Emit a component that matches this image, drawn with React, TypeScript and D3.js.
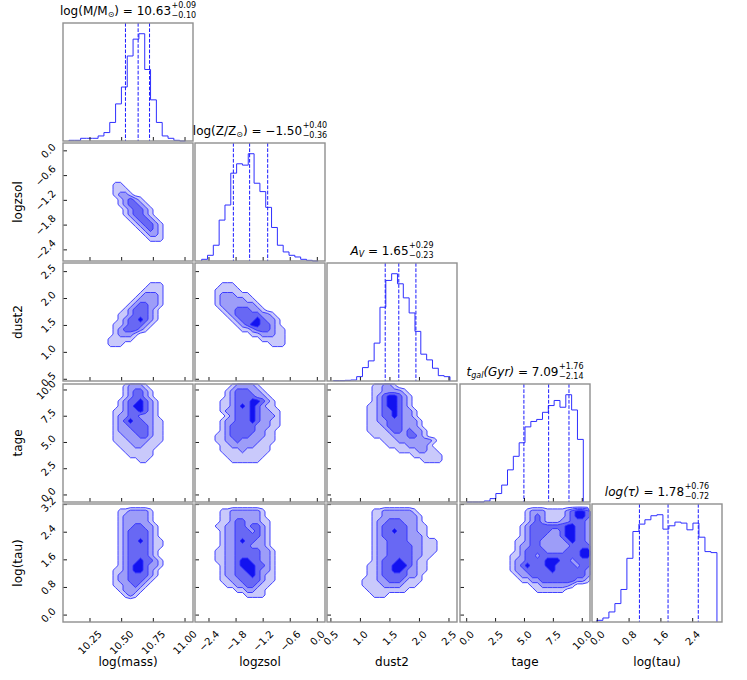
import React, { useMemo } from 'react';
import * as d3 from 'd3';

// ---------------- data ----------------
const PARAM_LABELS = ['log(mass)', 'logzsol', 'dust2', 'tage', 'log(tau)'];

const X_DOMAINS: [number, number][] = [
  [10.037, 11.063],
  [-2.71, 0.17],
  [0.434, 2.636],
  [-0.58, 10.67],
  [-0.133, 3.137],
];
const Y_DOMAINS: ([number, number] | null)[] = [
  null,
  [-2.67, 0.19],
  [0.468, 2.66],
  [-0.67, 10.57],
  [-0.2, 3.217],
];

const TICK_VALUES = [
  [10.25, 10.5, 10.75, 11.0],
  [-2.4, -1.8, -1.2, -0.6, 0.0],
  [0.5, 1.0, 1.5, 2.0, 2.5],
  [0, 2.5, 5, 7.5, 10],
  [0, 0.8, 1.6, 2.4, 3.2],
];
const TICK_LABELS = [
  ['10.25', '10.50', '10.75', '11.00'],
  ['\u22122.4', '\u22121.8', '\u22121.2', '\u22120.6', '0.0'],
  ['0.5', '1.0', '1.5', '2.0', '2.5'],
  ['0.0', '2.5', '5.0', '7.5', '10.0'],
  ['0.0', '0.8', '1.6', '2.4', '3.2'],
];

const MEDIANS = [10.63, -1.5, 1.65, 7.09, 1.78];
const ERR_PLUS = [0.09, 0.4, 0.29, 1.76, 0.76];
const ERR_MINUS = [0.1, 0.36, 0.23, 2.14, 0.72];

const HIST_START = [10.084, -2.562, 0.541, 0.0, -0.01];
const HIST_BIN_WIDTH = [0.046, 0.129, 0.0988, 0.5045, 0.151];
const HIST_MASS = [2, 2, 8, 8, 8, 15, 25, 55, 110, 160, 252, 302, 318, 212, 122, 55, 15, 8, 2, 0];
const HIST_LOGZSOL = [5, 17, 47, 122, 167, 262, 290, 286, 320, 232, 207, 160, 100, 47, 27, 17, 12, 5, 2, 0];
const HIST_DUST2 = [1, 1, 2, 3, 13, 40, 60, 113, 220, 300, 320, 290, 248, 203, 148, 80, 63, 38, 16, 13];
const HIST_TAGE = [0, 0, 0, 3, 10, 25, 50, 95, 135, 175, 222, 238, 244, 265, 285, 300, 280, 317, 272, 185];
const HIST_TAU = [5, 12, 30, 55, 97, 190, 270, 292, 305, 317, 320, 277, 287, 298, 295, 275, 295, 253, 210, 207];
const HIST_COUNTS = [HIST_MASS, HIST_LOGZSOL, HIST_DUST2, HIST_TAGE, HIST_TAU];

// 2D density level grids (26 x 24 bins spanning each panel's range; "start:levels")
const GRID_MASS_LOGZSOL = [
  '', '', '', '', '', '', '', '',
  '10:11', '10:111', '10:1221', '11:12321', '11:123321', '12:123321', '12:123321',
  '13:123321', '14:123321', '15:12321', '16:1221', '17:111',
];
const GRID_MASS_DUST2 = [
  '', '', '', '',
  '17:111', '16:1111', '15:12221', '14:122221', '13:1233221', '12:1233321',
  '11:11233321', '11:12334321', '10:11233321', '10:1233321', '10:12221', '9:11111', '9:111',
];
const GRID_LOGZSOL_DUST2 = [
  '', '', '', '',
  '5:111', '4:11111', '4:1222111', '4:12222211', '4:122222221', '5:122333221',
  '6:1233333221', '7:1233343221', '8:123443321', '9:112333211', '11:1122211', '13:11111', '15:111',
];
const GRID_MASS_TAGE = [
  '12:12221', '12:123321', '12:123321', '11:12334321', '11:12344321', '10:112334321',
  '10:122332221', '10:1234332211', '10:1223333211', '10:1222333211', '10:1122233211',
  '10:1112222111', '11:11122111', '12:111111', '13:11111', '15:11',
];
const GRID_LOGZSOL_TAGE = [
  '7:122221', '6:12333221', '6:123333221', '5:11233344321', '5:11234343211',
  '5:122333432211', '6:12333432221', '5:122333432211', '5:123333322211', '5:12333332211',
  '4:112333322211', '4:112232222111', '5:1122222111', '5:1111211111', '6:11111111', '7:111111',
];
const GRID_DUST2_TAGE = [
  '9:11221', '9:1122221', '9:12344321', '9:12344321', '8:112344321', '8:1123343221',
  '8:1123343221', '8:11223332221', '8:11123332221', '8:111123323221', '9:11112223321',
  '11:11122222221', '12:111122221', '14:11112211', '17:111111', '19:1111',
];
const GRID_MASS_TAU = [
  '', '11:1122221', '11:1222221', '11:1222221', '11:12233221', '11:12333321', '11:12333321',
  '11:123343211', '11:123333211', '11:12333321', '11:12333321', '11:123343321', '11:123443221',
  '10:112344321', '10:122333321', '10:12233321', '10:1122321', '11:12221', '12:121',
];
const GRID_LOGZSOL_TAU = [
  '', '5:112222221', '5:112222221', '5:1123322211', '4:11223323321', '5:1223332321',
  '5:1223333321', '5:1223433221', '5:1223332221', '4:112233333221', '4:112233333221',
  '4:112234433221', '5:12234443321', '5:12233443221', '5:12233343211', '5:11223333211',
  '6:112233211', '8:112211', '10:1111',
];
const GRID_DUST2_TAU = [
  '', '9:112222221', '9:1122222221', '9:1223332221', '9:12333332211', '9:12334332211',
  '9:12333332221', '9:1223333222111', '9:1223333322111', '9:1223333322111', '9:122333332211',
  '9:12333433211', '8:112334443211', '8:112334432211', '8:11233333221', '7:111223332111',
  '7:11112222111', '8:11111111', '9:111',
];
const GRID_TAGE_TAU = [
  '', '13:1222111123443', '13:1232111123443', '13:1232111223332', '12:12333333344332',
  '12:12333322344332', '12:12333222344332', '11:112332222234332', '11:122332222223333',
  '11:123333222233344', '10:1123323333333344', '10:1223333444332333', '10:1234333443333233',
  '10:1223333343333332', '11:122333333333332', '12:11223333333221', '14:112222221', '15:111111',
];

const CONTOUR_GRIDS: { [k: string]: string[] } = {
  '1-0': GRID_MASS_LOGZSOL,
  '2-0': GRID_MASS_DUST2,
  '2-1': GRID_LOGZSOL_DUST2,
  '3-0': GRID_MASS_TAGE,
  '3-1': GRID_LOGZSOL_TAGE,
  '3-2': GRID_DUST2_TAGE,
  '4-0': GRID_MASS_TAU,
  '4-1': GRID_LOGZSOL_TAU,
  '4-2': GRID_DUST2_TAU,
  '4-3': GRID_TAGE_TAU,
};

type Seg = { t: string; it?: boolean; sub?: boolean };
const TITLE_NAMES: Seg[][] = [
  [{ t: 'log(M/M' }, { t: '\u2299', sub: true }, { t: ')' }],
  [{ t: 'log(Z/Z' }, { t: '\u2299', sub: true }, { t: ')' }],
  [{ t: 'A', it: true }, { t: 'V', it: true, sub: true }],
  [{ t: 't', it: true }, { t: 'gal', it: true, sub: true }, { t: '(Gyr)', it: true }],
  [{ t: 'log(\u03c4)', it: true }],
];

// ---------------- layout / style ----------------
const W = 747, H = 680;
const COL_LEFT = [63, 195, 327, 460, 592];
const ROW_TOP = [23, 143, 263, 384, 504];
const PW = 130, PH = 118;
const NX = 26, NY = 24;
const FONT = '"DejaVu Sans", sans-serif';
const FS_TICK = 10, FS_LABEL = 12, FS_SCRIPT = 8;
const LEVEL_FILLS = ['#c9c9fb', '#9d9df8', '#6868f4', '#1212f0'];
const LINE = '#2f2fff';
const FRAME = '#8f8f8f';

function parseGrid(rows: string[]): number[] {
  const v = new Array(NX * NY).fill(0);
  rows.forEach((row, j) => {
    if (!row) return;
    const [s, digits] = row.split(':');
    const i0 = parseInt(s, 10);
    for (let k = 0; k < digits.length; k++) {
      const i = i0 + k;
      if (i < NX && j < NY) v[j * NX + i] = digits[k] === '.' ? 0 : +digits[k];
    }
  });
  return v;
}

function fmt(v: number) {
  const s = Math.abs(v).toFixed(2);
  return v < 0 ? '\u2212' + s : s;
}

export default function App() {
  const measure = useMemo(() => {
    const ctx = document.createElement('canvas').getContext('2d')!;
    return (s: string, size: number, it = false) => {
      ctx.font = `${it ? 'italic ' : ''}${size}px "DejaVu Sans"`;
      return ctx.measureText(s).width;
    };
  }, []);

  const elements: React.ReactNode[] = [];

  for (let r = 0; r < 5; r++) {
    for (let c = 0; c <= r; c++) {
      const L = COL_LEFT[c], T = ROW_TOP[r], B = T + PH;
      const xs = d3.scaleLinear().domain(X_DOMAINS[c]).range([L, L + PW]);
      const key = `p${r}${c}`;
      const parts: React.ReactNode[] = [];

      if (r === c) {
        const counts = HIST_COUNTS[c];
        const ys = d3.scaleLinear().domain([0, 1.1 * (d3.max(counts) as number)]).range([B, T]);
        const pts: [number, number][] = [];
        const x0 = HIST_START[c], bw = HIST_BIN_WIDTH[c];
        pts.push([x0, 0]);
        counts.forEach((n, k) => {
          pts.push([x0 + k * bw, n]);
          pts.push([x0 + (k + 1) * bw, n]);
        });
        pts.push([x0 + counts.length * bw, 0]);
        const line = d3.line<[number, number]>().x(d => xs(d[0])).y(d => ys(d[1]));
        parts.push(<path key="h" d={line(pts) || ''} fill="none" stroke={LINE} strokeWidth={1} />);
        const qs = [MEDIANS[c] - ERR_MINUS[c], MEDIANS[c], MEDIANS[c] + ERR_PLUS[c]];
        qs.forEach((q, k) => (
          parts.push(<line key={'q' + k} x1={xs(q)} x2={xs(q)} y1={T} y2={B} stroke="#1a1aff" strokeWidth={1} strokeDasharray="3.7 1.6" />)
        ));
      } else {
        const yd = Y_DOMAINS[r] as [number, number];
        const ys = d3.scaleLinear().domain(yd).range([B, T]);
        const gx = d3.scaleLinear().domain([0, NX]).range(X_DOMAINS[c]);
        const gy = d3.scaleLinear().domain([0, NY]).range([yd[1], yd[0]]);
        const values = parseGrid(CONTOUR_GRIDS[`${r}-${c}`]);
        const contours = d3.contours().size([NX, NY]).thresholds([0.5, 1.5, 2.5, 3.5])(values);
        const proj = d3.geoTransform({
          point: function (this: any, x: number, y: number) {
            this.stream.point(xs(gx(x)), ys(gy(y)));
          },
        });
        const path = d3.geoPath(proj);
        contours.forEach((ct, k) => {
          if (!ct.coordinates.length) return;
          parts.push(<path key={'c' + k} d={path(ct as any) || ''} fill={LEVEL_FILLS[k]} stroke={LINE} strokeWidth={0.9} strokeLinejoin="round" />);
        });
        // y ticks
        TICK_VALUES[r].forEach((v, k) => {
          if (v < yd[0] || v > yd[1]) return;
          const y = ys(v);
          parts.push(<line key={'yt' + k} x1={L} x2={L + 4} y1={y} y2={y} stroke="#000" strokeWidth={0.9} />);
          if (c === 0) {
            const lab = TICK_LABELS[r][k];
            const w = measure(lab, FS_TICK);
            const half = (w + 1.16 * FS_TICK) / (2 * Math.SQRT2);
            parts.push(
              <text key={'yl' + k} transform={`translate(${L - 4.8 - half},${y}) rotate(-45)`} textAnchor="middle" dominantBaseline="central" fontSize={FS_TICK}>{lab}</text>
            );
          }
        });
      }

      // x ticks
      TICK_VALUES[c].forEach((v, k) => {
        if (v < X_DOMAINS[c][0] || v > X_DOMAINS[c][1]) return;
        const x = xs(v);
        parts.push(<line key={'xt' + k} x1={x} x2={x} y1={B} y2={B - 4} stroke="#000" strokeWidth={0.9} />);
        if (r === 4) {
          const lab = TICK_LABELS[c][k];
          const w = measure(lab, FS_TICK);
          const half = (w + 1.16 * FS_TICK) / (2 * Math.SQRT2);
          parts.push(
            <text key={'xl' + k} transform={`translate(${x},${B + 6.3 + half}) rotate(-45)`} textAnchor="middle" dominantBaseline="central" fontSize={FS_TICK}>{lab}</text>
          );
        }
      });

      parts.push(<rect key="f" x={L} y={T} width={PW} height={PH} fill="none" stroke={FRAME} strokeWidth={1.4} />);
      elements.push(<g key={key}>{parts}</g>);
    }
  }

  // axis labels
  PARAM_LABELS.forEach((lab, c) => {
    elements.push(
      <text key={'xlab' + c} x={COL_LEFT[c] + PW / 2} y={666} textAnchor="middle" fontSize={FS_LABEL}>{lab}</text>
    );
    if (c > 0) {
      const cy = ROW_TOP[c] + PH / 2;
      elements.push(
        <text key={'ylab' + c} transform={`translate(22,${cy}) rotate(-90)`} textAnchor="middle" fontSize={FS_LABEL}>{lab}</text>
      );
    }
  });

  // titles
  TITLE_NAMES.forEach((segs, k) => {
    const small = FS_SCRIPT;
    const items: { t: string; x: number; dy: number; size: number; it: boolean }[] = [];
    let x = 0;
    segs.forEach(s => {
      const size = s.sub ? small : FS_LABEL;
      items.push({ t: s.t, x, dy: s.sub ? 2.5 : 0, size, it: !!s.it });
      x += measure(s.t, size, !!s.it);
    });
    const eq = ` = ${fmt(MEDIANS[k])}`;
    items.push({ t: eq, x, dy: 0, size: FS_LABEL, it: false });
    x += measure(eq, FS_LABEL);
    const sup = `+${ERR_PLUS[k].toFixed(2)}`;
    const sub = `\u2212${ERR_MINUS[k].toFixed(2)}`;
    const sw = Math.max(measure(sup, small), measure(sub, small));
    items.push({ t: sup, x: x + 0.5, dy: -6.2, size: small, it: false });
    items.push({ t: sub, x: x + 0.5, dy: 3.2, size: small, it: false });
    const total = x + 0.5 + sw;
    const x0 = COL_LEFT[k] + PW / 2 - total / 2;
    const y0 = ROW_TOP[k] - 8.5;
    elements.push(
      <g key={'title' + k}>
        {items.map((it, i) => (
          <text key={i} x={x0 + it.x} y={y0 + it.dy} fontSize={it.size} fontStyle={it.it ? 'italic' : 'normal'} style={{ whiteSpace: 'pre' }}>{it.t}</text>
        ))}
      </g>
    );
  });

  return (
    <svg width={W} height={H} style={{ position: 'absolute', left: 0, top: 0, background: '#fff' }} fontFamily={FONT}>
      <rect x={0} y={0} width={W} height={H} fill="#fff" />
      {elements}
    </svg>
  );
}
